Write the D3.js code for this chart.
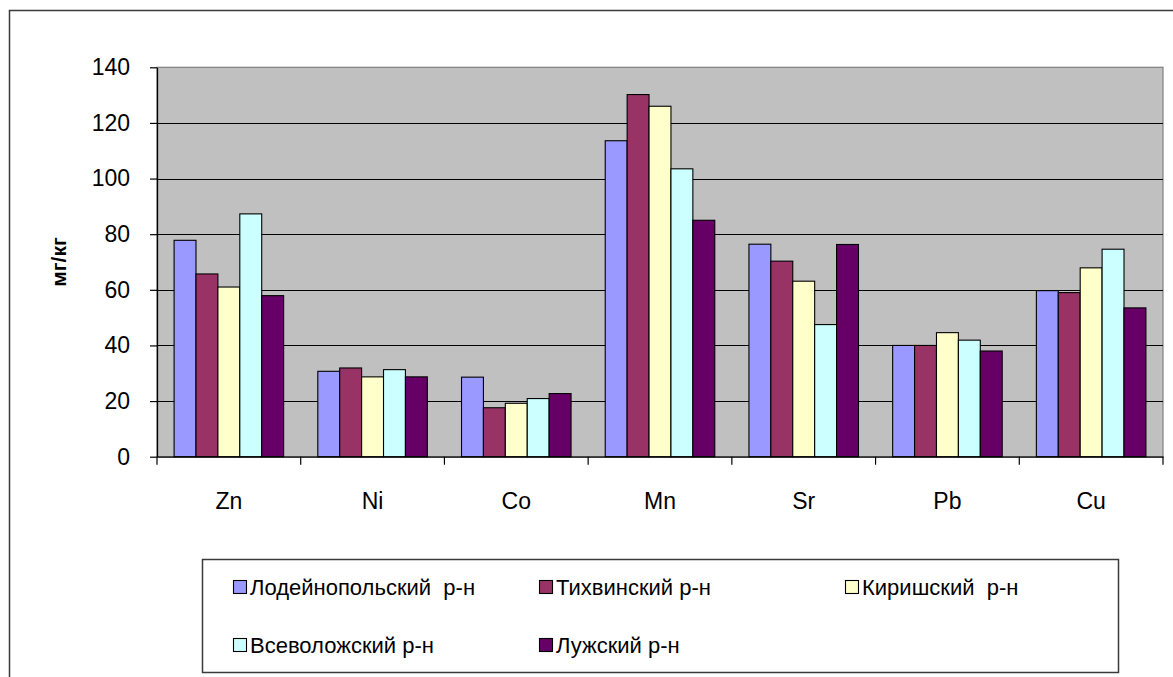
<!DOCTYPE html>
<html>
<head>
<meta charset="utf-8">
<script src="https://cdn.jsdelivr.net/npm/d3@7"></script>
<style>
  html, body { margin: 0; padding: 0; background: #fff; }
  svg { display: block; font-family: "Liberation Sans", Arial, sans-serif; }
</style>
</head>
<body>
<svg id="chart" width="1173" height="677"></svg>
<script>
// Heavy metal content in soils by district, mg/kg
const elements = ["Zn", "Ni", "Co", "Mn", "Sr", "Pb", "Cu"];
const districts = ["Лодейнопольский  р-н", "Тихвинский р-н", "Киришский  р-н", "Всеволожский р-н", "Лужский р-н"];
const lodeynopole = [77.8, 30.7, 28.6, 113.6, 76.4, 40.0, 59.7];
const tikhvin     = [65.7, 31.9, 17.6, 130.2, 70.3, 40.0, 59.0];
const kirishi     = [61.0, 28.7, 19.2, 126.0, 63.1, 44.6, 67.9];
const vsevolozhsk = [87.3, 31.3, 20.9, 103.5, 47.5, 41.9, 74.6];
const luga        = [57.9, 28.7, 22.7,  85.0, 76.3, 38.0, 53.5];
const yTicks = [0, 20, 40, 60, 80, 100, 120, 140];
const colors = ["#9999FF", "#993366", "#FFFFCC", "#CCFFFF", "#660066"];
const yTitle = "мг/кг";

const seriesValues = [lodeynopole, tikhvin, kirishi, vsevolozhsk, luga];

const svg = d3.select("#chart");
const plot = { left: 157, right: 1163, top: 67.3, bottom: 456.7 };

// outer chart frame (right and bottom edges run past the view)
svg.append("rect")
  .attr("x", 9.5).attr("y", 10.5)
  .attr("width", 1200).attr("height", 700)
  .attr("fill", "#fff").attr("stroke", "#3a3a3a").attr("stroke-width", 1.5);

const x0 = d3.scaleBand().domain(elements).range([plot.left, plot.right]).padding(0);
const x1 = d3.scaleBand().domain(d3.range(districts.length))
  .range([0, x0.bandwidth()]).paddingInner(0).paddingOuter(0.78);
const y = d3.scaleLinear().domain([0, 140]).range([plot.bottom, plot.top]);

// plot area background
svg.append("rect")
  .attr("x", plot.left).attr("y", plot.top)
  .attr("width", plot.right - plot.left).attr("height", plot.bottom - plot.top)
  .attr("fill", "#C0C0C0").attr("stroke", "#808080").attr("stroke-width", 1.2);

// horizontal gridlines
svg.append("g")
  .selectAll("line")
  .data(yTicks.filter(d => d > 0 && d < 140))
  .join("line")
  .attr("x1", plot.left).attr("x2", plot.right)
  .attr("y1", d => Math.round(y(d)) + 0.5).attr("y2", d => Math.round(y(d)) + 0.5)
  .attr("stroke", "#000").attr("stroke-width", 1);

// bars
const groups = svg.append("g").selectAll("g")
  .data(elements)
  .join("g")
  .attr("transform", d => `translate(${x0(d)},0)`);

groups.selectAll("rect")
  .data((d, i) => seriesValues.map((s, k) => ({ k, v: s[i] })))
  .join("rect")
  .attr("x", d => x1(d.k))
  .attr("width", x1.bandwidth())
  .attr("y", d => y(d.v))
  .attr("height", d => y(0) - y(d.v))
  .attr("fill", d => colors[d.k])
  .attr("stroke", "#000").attr("stroke-width", 1.1);

// y axis
const yAxis = svg.append("g")
  .attr("transform", `translate(${plot.left},0)`)
  .call(d3.axisLeft(y).tickValues(yTicks).tickSize(7).tickSizeOuter(0).tickPadding(20).tickFormat(d3.format("d")));
yAxis.select(".domain").attr("stroke", "#000").attr("stroke-width", 1.3);
yAxis.selectAll(".tick line").attr("stroke", "#000").attr("stroke-width", 1.2);
yAxis.selectAll(".tick text")
  .attr("font-size", 23).attr("fill", "#000")
  .attr("font-family", "'Liberation Sans', Arial, sans-serif");

// x axis: category labels centred, ticks on the category boundaries
const xAxis = svg.append("g")
  .attr("transform", `translate(0,${plot.bottom})`)
  .call(d3.axisBottom(x0).tickSize(0).tickPadding(36).tickSizeOuter(0));
xAxis.select(".domain").attr("stroke", "#000").attr("stroke-width", 1.3);
xAxis.selectAll(".tick text")
  .attr("font-size", 23).attr("fill", "#000")
  .attr("font-family", "'Liberation Sans', Arial, sans-serif");

const boundaries = elements.map(e => x0(e)).concat([x0.range()[1]]);
xAxis.append("g").selectAll("line")
  .data(boundaries)
  .join("line")
  .attr("x1", d => d).attr("x2", d => d)
  .attr("y1", 0).attr("y2", 8)
  .attr("stroke", "#000").attr("stroke-width", 1.2);

// y axis title
svg.append("text")
  .attr("transform", "translate(66,262) rotate(-90)")
  .attr("text-anchor", "middle")
  .attr("font-size", 21).attr("font-weight", "bold").attr("fill", "#000")
  .text(yTitle);

// legend
const legendBox = { x: 202, y: 559, w: 916, h: 113 };
svg.append("rect")
  .attr("x", legendBox.x + 0.5).attr("y", legendBox.y + 0.5)
  .attr("width", legendBox.w).attr("height", legendBox.h)
  .attr("fill", "#fff").attr("stroke", "#3a3a3a").attr("stroke-width", 1.5);

const legendCols = [233, 539, 845];
const legendRows = [587, 645];
const items = svg.append("g").selectAll("g")
  .data(districts)
  .join("g")
  .attr("transform", (d, i) => `translate(${legendCols[i % 3]},${legendRows[Math.floor(i / 3)]})`);

items.append("rect")
  .attr("x", 0.5).attr("y", -6.5)
  .attr("width", 13).attr("height", 13)
  .attr("fill", (d, i) => colors[i])
  .attr("stroke", "#000").attr("stroke-width", 1.1);

items.append("text")
  .attr("x", 17).attr("y", 0).attr("dy", "0.36em")
  .attr("font-size", 22).attr("fill", "#000")
  .style("white-space", "pre")
  .text(d => d);
</script>
</body>
</html>
